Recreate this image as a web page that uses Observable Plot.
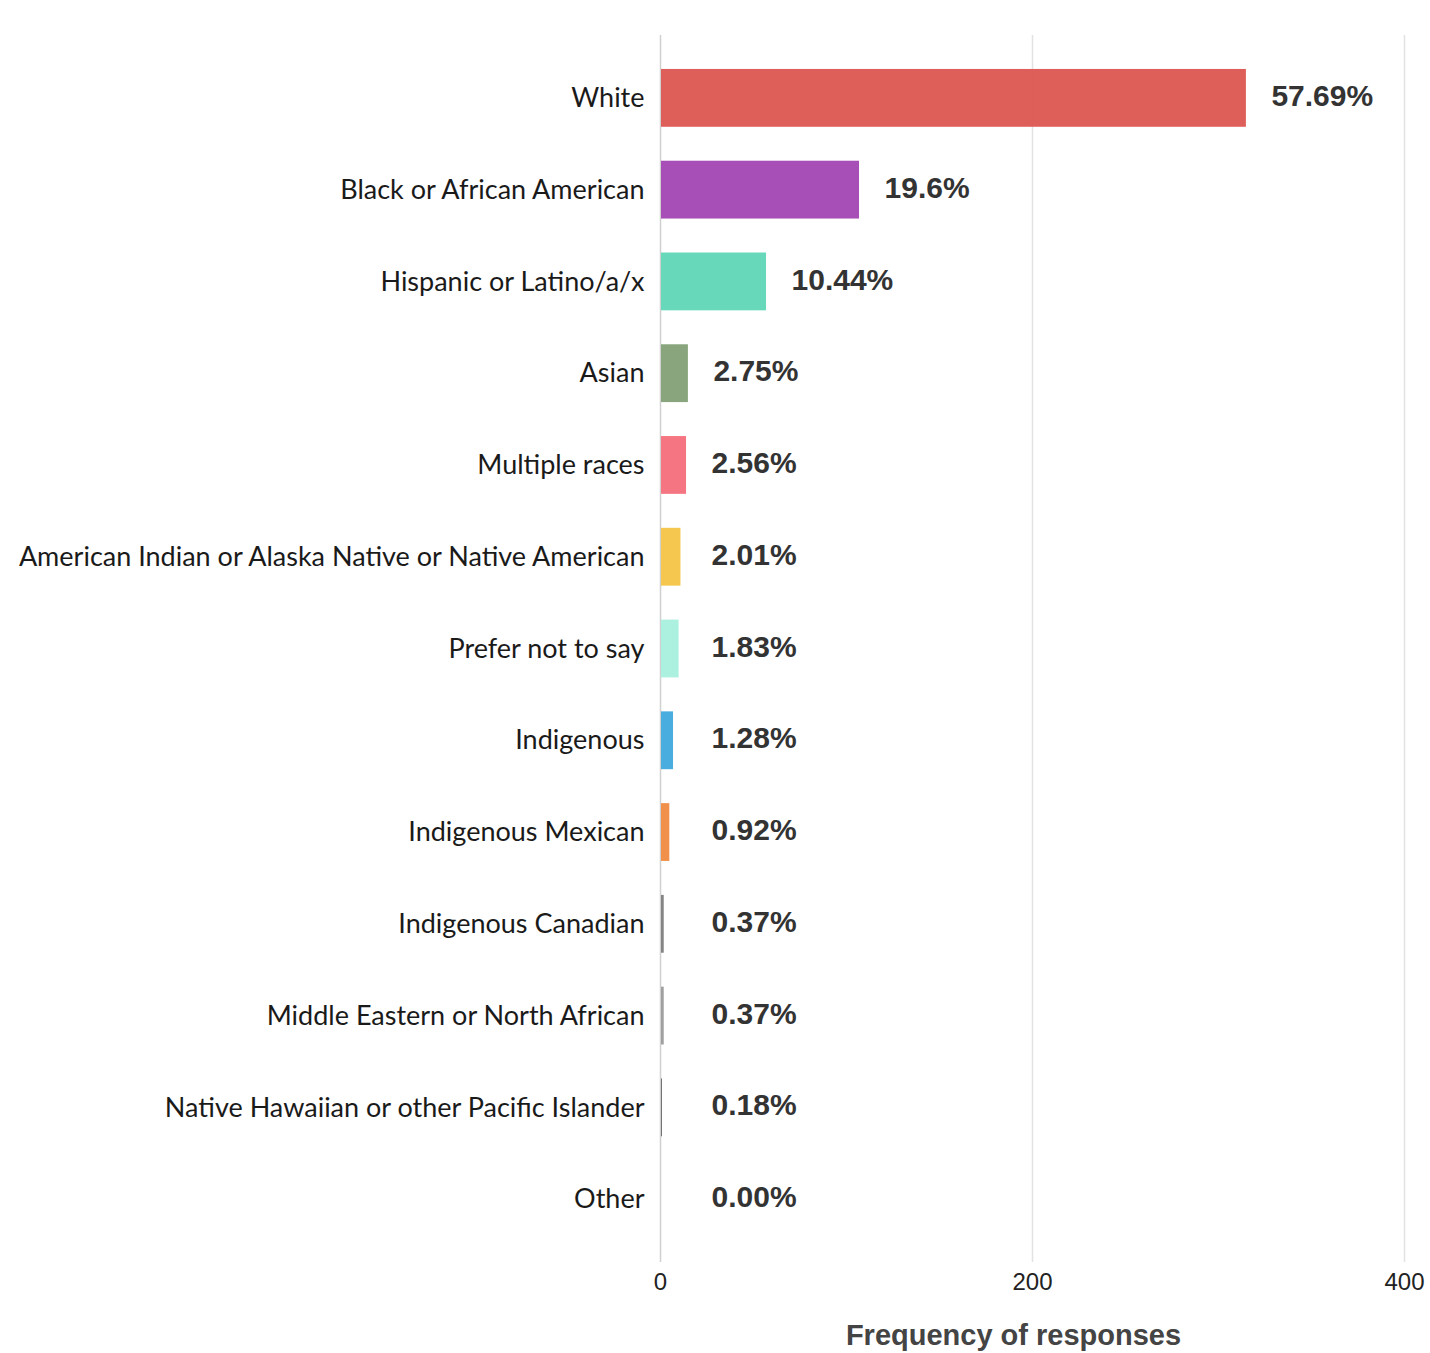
<!DOCTYPE html>
<html>
<head>
<meta charset="utf-8">
<script src="https://cdn.jsdelivr.net/npm/d3@7"></script>
<script src="https://cdn.jsdelivr.net/npm/@observablehq/plot@0.6"></script>
<style>
  body { margin: 0; background: #fff; }
  #chart svg { display: block; }
</style>
</head>
<body>
<div id="chart"></div>
<script>
const categories = [
  "White",
  "Black or African American",
  "Hispanic or Latino/a/x",
  "Asian",
  "Multiple races",
  "American Indian or Alaska Native or Native American",
  "Prefer not to say",
  "Indigenous",
  "Indigenous Mexican",
  "Indigenous Canadian",
  "Middle Eastern or North African",
  "Native Hawaiian or other Pacific Islander",
  "Other"
];
const counts = [315, 107, 57, 15, 14, 11, 10, 7, 5, 2, 2, 1, 0];
const percentLabels = ["57.69%", "19.6%", "10.44%", "2.75%", "2.56%", "2.01%", "1.83%", "1.28%", "0.92%", "0.37%", "0.37%", "0.18%", "0.00%"];
const colors = ["#dc5650", "#a246b2", "#5fd6b5", "#83a077", "#f46f7b", "#f6c446", "#a8efdd", "#40a9de", "#ef8a40", "#7d7d7d", "#9a9a9a", "#555555", "#cccccc"];
const xTicks = [0, 200, 400];

const data = categories.map((c, i) => ({category: c, count: counts[i], label: percentLabels[i], color: colors[i]}));

const chart = Plot.plot({
  width: 1430,
  height: 1353,
  marginLeft: 660,
  marginRight: 26,
  marginTop: 35,
  marginBottom: 91,
  style: {background: "#fff", color: "#222"},
  x: {domain: [0, 400], ticks: xTicks, label: null},
  y: {domain: categories, padding: 0.37, round: false, label: null},
  marks: [
    Plot.gridX(xTicks.slice(1), {stroke: "#e2e2e2", strokeOpacity: 1, strokeWidth: 1.5}),
    Plot.ruleX([0], {stroke: "#d0d0d0", strokeWidth: 1.5}),
    Plot.barX(data, {y: "category", x: "count", fill: "color", fillOpacity: 0.95, insetLeft: 1}),
    Plot.axisY({tickSize: 0, tickPadding: 16, fontSize: 27, fontFamily: "Lato, 'Open Sans', sans-serif", fill: "#1a1a1a", label: null}),
    Plot.axisX({ticks: xTicks, tickSize: 0, tickPadding: 10, fontSize: 24, fontFamily: "'Liberation Sans', Arial, sans-serif", fill: "#222", label: null}),
    Plot.text(data, {
      y: "category",
      x: d => Math.max(d.count, 14),
      text: "label",
      dx: 25,
      dy: -2,
      textAnchor: "start",
      fontSize: 30,
      fontWeight: "bold",
      fontFamily: "'Liberation Sans', Arial, sans-serif",
      fill: "#333"
    }),
    Plot.text(["Frequency of responses"], {
      frameAnchor: "bottom",
      text: d => d,
      dx: -19,
      dy: 82,
      fontSize: 29,
      fontWeight: "bold",
      fontFamily: "'Liberation Sans', Arial, sans-serif",
      fill: "#444"
    })
  ]
});
document.getElementById("chart").appendChild(chart);
</script>
</body>
</html>
